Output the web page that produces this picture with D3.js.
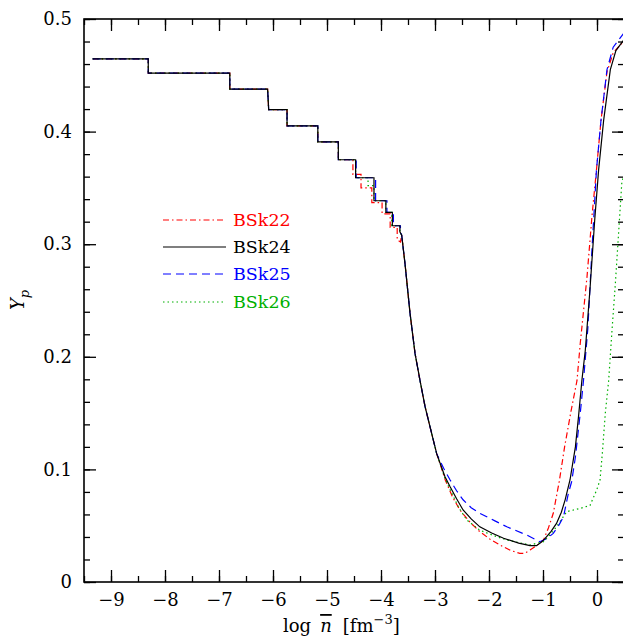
<!DOCTYPE html>
<html><head><meta charset="utf-8">
<script src="https://cdn.jsdelivr.net/npm/d3@7"></script>
<style>body{margin:0;background:#fff}svg{display:block}</style>
</head><body>
<svg id="c" width="623" height="637"></svg>
<script>
// ---- data ----
const xTicks = [-9,-8,-7,-6,-5,-4,-3,-2,-1,0];
const yTicks = [0,0.1,0.2,0.3,0.4,0.5];
const seriesNames = ["BSk22","BSk24","BSk25","BSk26"];

const crustOuter = [[-9.34,0.4645],[-8.31,0.4645],[-8.31,0.452],[-6.80,0.452],[-6.80,0.4378],
  [-6.10,0.4378],[-6.08,0.4195],[-5.74,0.4195],[-5.74,0.405],[-5.17,0.405],[-5.17,0.3908],
  [-4.79,0.3908],[-4.79,0.375]];
const crustInnerBlack = [[-4.47,0.375],[-4.47,0.359],[-4.13,0.359],[-4.13,0.3386],[-3.91,0.3386],
  [-3.91,0.3283],[-3.79,0.3283],[-3.79,0.3164],[-3.65,0.3164],[-3.65,0.311]];
const crustInnerRed = [[-4.52,0.375],[-4.52,0.362],[-4.37,0.362],[-4.37,0.350],[-4.17,0.350],
  [-4.17,0.337],[-3.98,0.337],[-3.98,0.327],[-3.83,0.327],[-3.83,0.315],[-3.70,0.315],[-3.70,0.304],[-3.64,0.302]];
const crustInnerBlue = [[-4.46,0.375],[-4.46,0.359],[-4.10,0.359],[-4.10,0.3386],[-3.89,0.3386],
  [-3.89,0.3283],[-3.77,0.3283],[-3.77,0.3164],[-3.64,0.3164],[-3.64,0.311]];
const crustInnerGreen = [[-4.47,0.375],[-4.47,0.359],[-4.24,0.359],[-4.24,0.352],[-4.13,0.352],[-4.13,0.3386],[-3.91,0.3386],
  [-3.91,0.3283],[-3.80,0.3283],[-3.80,0.3164],[-3.65,0.3164],[-3.65,0.311]];
const steepPart = [[-3.617,0.308],[-3.556,0.283],[-3.463,0.239],[-3.37,0.203],[-3.278,0.179],
  [-3.185,0.156],[-3.093,0.138],[-2.969,0.114]];

const coreBlack = [[-2.815,0.0935],[-2.72,0.0846],[-2.6,0.074],[-2.48,0.064],[-2.33,0.056],[-2.17,0.049],
  [-1.95,0.0435],[-1.73,0.0388],[-1.45,0.0345],[-1.24,0.0323],[-1.12,0.0323],[-1.04,0.035],[-0.96,0.0388],
  [-0.85,0.045],[-0.75,0.052],[-0.66,0.062],[-0.59,0.073],[-0.5,0.0906],[-0.40,0.120],[-0.34,0.148],
  [-0.28,0.179],[-0.216,0.206],[-0.13,0.26],[-0.043,0.321],[0.03,0.366],[0.123,0.41],[0.247,0.455],
  [0.35,0.472],[0.49,0.481]];
const coreRed = [[-2.81,0.0906],[-2.68,0.076],[-2.54,0.064],[-2.35,0.053],[-2.17,0.0447],[-1.98,0.038],
  [-1.80,0.0329],[-1.60,0.028],[-1.43,0.0255],[-1.34,0.0255],[-1.24,0.0284],[-1.1,0.033],[-0.99,0.0373],
  [-0.90,0.048],[-0.81,0.061],[-0.70,0.089],[-0.60,0.12],[-0.48,0.152],[-0.37,0.179],[-0.31,0.212],
  [-0.185,0.271],[-0.093,0.325],[-0.01,0.366],[0.074,0.41],[0.185,0.453],[0.3,0.47],[0.49,0.48]];
const coreBlue = [[-2.84,0.101],[-2.72,0.0906],[-2.6,0.081],[-2.48,0.073],[-2.33,0.066],[-2.17,0.061],
  [-1.9,0.0545],[-1.67,0.049],[-1.30,0.0417],[-1.06,0.0358],[-0.93,0.0385],[-0.81,0.0432],[-0.70,0.051],
  [-0.62,0.058],[-0.53,0.0788],[-0.47,0.089],[-0.40,0.111],[-0.31,0.15],[-0.25,0.179],[-0.17,0.225],
  [-0.09,0.298],[-0.01,0.366],[0.074,0.41],[0.185,0.455],[0.3,0.475],[0.49,0.487]];
const coreGreen = [[-2.815,0.092],[-2.72,0.082],[-2.56,0.066],[-2.41,0.055],[-2.17,0.046],[-1.9,0.041],
  [-1.67,0.0373],[-1.45,0.035],[-1.24,0.0329],[-0.99,0.0358],[-0.87,0.042],[-0.75,0.049],[-0.56,0.0625],
  [-0.31,0.0654],[-0.13,0.068],[-0.006,0.0817],[0.056,0.0906],[0.10,0.115],[0.154,0.15],[0.216,0.179],
  [0.28,0.225],[0.34,0.265],[0.40,0.31],[0.46,0.355],[0.49,0.36]];

const bsk22 = crustOuter.concat(crustInnerRed, steepPart, coreRed);
const bsk24 = crustOuter.concat(crustInnerBlack, steepPart, coreBlack);
const bsk25 = crustOuter.concat(crustInnerBlue, steepPart, coreBlue);
const bsk26 = crustOuter.concat(crustInnerGreen, steepPart, coreGreen);

// ---- chart ----
const svg = d3.select("#c");
const L=84, R=624, T=19, B=582;
const x = d3.scaleLinear().domain([-9.5,0.5]).range([L,R]);
const y = d3.scaleLinear().domain([0,0.5]).range([B,T]);
const FONT = "DejaVu Serif, serif";

svg.append("defs").append("clipPath").attr("id","clip")
  .append("rect").attr("x",L).attr("y",T).attr("width",R-L).attr("height",B-T);

const styles = [
  {data:bsk22, color:"#ff0000", dash:"6,3,1.5,3"},
  {data:bsk24, color:"#000000", dash:null},
  {data:bsk25, color:"#0000ff", dash:"8,5"},
  {data:bsk26, color:"#00b000", dash:"1.5,3"}
];
const line = d3.line().x(d=>x(d[0])).y(d=>y(d[1]));
const g = svg.append("g").attr("clip-path","url(#clip)");
[0,3,2,1].forEach(i=>{
  const s = styles[i];
  g.append("path").attr("d",line(s.data)).attr("fill","none")
    .attr("stroke",s.color).attr("stroke-width",1.2)
    .attr("stroke-dasharray",s.dash);
});

// axes
const minorX = d3.range(-9.5,0.51,0.5);
const minorY = d3.range(0,0.501,0.02);
function styleAxis(sel){
  sel.select(".domain").remove();
  sel.selectAll("line").attr("stroke","#000").attr("stroke-width",1.3);
  sel.selectAll("text").attr("font-family",FONT).attr("font-size",18).attr("fill","#000");
}
svg.append("g").attr("transform",`translate(0,${B})`)
  .call(d3.axisBottom(x).tickValues(minorX).tickSize(-6).tickFormat("")).call(styleAxis);
svg.append("g").attr("transform",`translate(0,${B})`)
  .call(d3.axisBottom(x).tickValues(xTicks).tickSize(-12).tickPadding(11).tickFormat(d3.format("d"))).call(styleAxis);
svg.append("g").attr("transform",`translate(0,${T})`)
  .call(d3.axisTop(x).tickValues(minorX).tickSize(-6).tickFormat("")).call(styleAxis);
svg.append("g").attr("transform",`translate(0,${T})`)
  .call(d3.axisTop(x).tickValues(xTicks).tickSize(-12).tickFormat("")).call(styleAxis);
svg.append("g").attr("transform",`translate(${L},0)`)
  .call(d3.axisLeft(y).tickValues(minorY).tickSize(-6).tickFormat("")).call(styleAxis);
svg.append("g").attr("transform",`translate(${L},0)`)
  .call(d3.axisLeft(y).tickValues(yTicks).tickSize(-12).tickPadding(12).tickFormat(d=>d===0?"0":d3.format(".1f")(d))).call(styleAxis);
svg.append("g").attr("transform",`translate(${R},0)`)
  .call(d3.axisRight(y).tickValues(minorY).tickSize(-6).tickFormat("")).call(styleAxis);
svg.append("g").attr("transform",`translate(${R},0)`)
  .call(d3.axisRight(y).tickValues(yTicks).tickSize(-12).tickFormat("")).call(styleAxis);

// frame
svg.append("rect").attr("x",L).attr("y",T).attr("width",R-L).attr("height",B-T)
  .attr("fill","none").attr("stroke","#000").attr("stroke-width",1.6);

// axis labels
const xl = svg.append("text").attr("x",283).attr("y",632).attr("text-anchor","start")
  .attr("font-family",FONT).attr("font-size",18);
xl.append("tspan").text("log");
xl.append("tspan").attr("dx",9).attr("font-style","italic").attr("text-decoration","overline").text("n");
xl.append("tspan").attr("dx",11).text("[fm");
xl.append("tspan").attr("dy",-8).attr("font-size",13).text("−3");
xl.append("tspan").attr("dy",8).text("]");

const yl = svg.append("text").attr("transform","translate(24,300) rotate(-90)").attr("text-anchor","middle")
  .attr("font-family",FONT).attr("font-size",18);
yl.append("tspan").attr("font-style","italic").text("Y");
yl.append("tspan").attr("font-style","italic").attr("dy",5).attr("font-size",13).text("p");

// legend
const legY = [220,247,274,302];
styles.forEach((s,i)=>{
  svg.append("line").attr("x1",163).attr("x2",226).attr("y1",legY[i]).attr("y2",legY[i])
    .attr("stroke",s.color).attr("stroke-width",1.2).attr("stroke-dasharray",s.dash);
  svg.append("text").attr("x",233).attr("y",legY[i]+6).attr("font-family",FONT).attr("font-size",17.5)
    .attr("fill",s.color).text(seriesNames[i]);
});
</script>
</body></html>
